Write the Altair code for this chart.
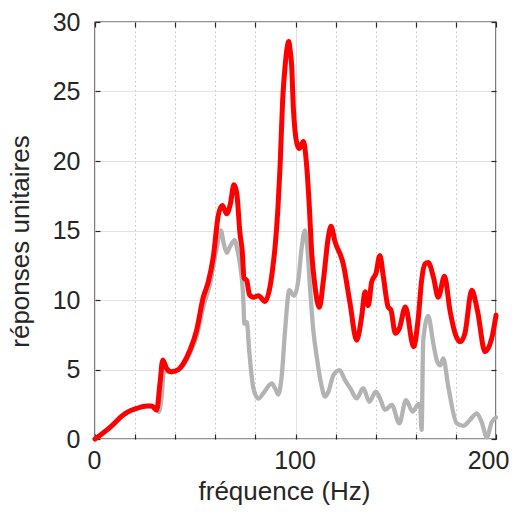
import altair as alt
import pandas as pd

# red series (frequency in Hz, unit response)
freq_red = [0, 7.5, 14.1, 15.8, 20.8, 25.8, 28.3, 30.8, 32.4, 33.8, 35.7, 38.2, 41.6, 44.1,
            47.4, 50.7, 54, 56.5, 59, 61.5, 63.5, 65.7, 67.5, 69.3, 70.7, 72.3, 73.5, 74.3,
            75.7, 77, 79, 81.5, 84.8, 87.3, 88.9, 89.8, 91.2, 92.3, 93.6, 94.8, 95.9, 96.6,
            97.3, 98.1, 98.9, 99.75, 100.8, 101.9, 103.9, 105.6, 106.9, 108, 109.7, 111.9,
            113.9, 116.4, 117.7, 119.7, 123.8, 127.2, 130.5, 133, 134.7, 136.3, 138, 140.1,
            142.1, 143.8, 146.2, 147.6, 149.8, 151.8, 154.8, 158.9, 161.3, 162.9, 164.6,
            166.2, 168.7, 171.2, 174.3, 177.1, 179.6, 182.2, 184.5, 187.9, 190.8, 194.5,
            197.8, 200]
resp_red = [0, 0.84, 1.73, 1.9, 2.2, 2.37, 2.37, 2.09, 4.0, 5.68, 5.08, 4.84, 5.0, 5.44,
            6.4, 7.84, 10.2, 11.3, 13.1, 16.1, 16.8, 16.2, 16.9, 18.3, 17.7, 14.8, 13.4, 11.6,
            11.4, 10.4, 10.2, 10.3, 9.9, 10.96, 12.6, 13.8, 16.5, 19.6, 24.4, 26.8, 28.2, 28.6,
            28.0, 26.8, 23.9, 22.2, 21.2, 20.9, 21.4, 19.6, 16.7, 13.6, 11.0, 9.47,
            11.4, 14.55, 15.3, 14.2, 12.6, 9.76, 7.1, 8.8, 10.6, 9.6, 11.3, 11.9,
            13.2, 11.7, 9.5, 9.28, 7.6, 7.96, 9.5, 6.64, 8.8, 11.4, 12.6,
            12.7, 11.7, 10.2, 11.7, 9.2, 7.6, 7.0, 7.6, 10.7, 9.2, 6.28,
            7.2, 8.9]

# grey series
freq_grey = [0, 7.5, 14.1, 15.8, 20.8, 25.8, 28.3, 30.8, 31.8, 33.2, 34.4, 36, 38.2, 41.6,
             44.1, 47.4, 50.7, 54, 57.4, 60.5, 62.8, 64.3, 65.7, 67.5, 69.8, 70.7, 72.3, 74,
             74.5, 75.7, 77, 79, 81.5, 84, 88.1, 89.8, 91.4, 93.1, 94.8, 96.9, 99.3, 101.4,
             103.1, 104.7, 105.9, 107.2, 108.9, 110.6, 113.1, 114.7, 116.4, 118.9, 121.9,
             124.7, 127.5, 130.5, 133.8, 136.8, 140.1, 142.5, 144.6, 148, 151.8, 155.1, 158.4,
             161.3, 162.1, 162.9, 163.7, 166.2, 168.7, 170.6, 172.2, 173.7, 176.2, 180.4,
             183.7, 187, 190.4, 192.9, 195.4, 197.8, 200]
resp_grey = [0, 0.84, 1.73, 1.9, 2.2, 2.37, 2.35, 2.05, 1.95, 3.0, 4.9, 4.85, 4.8, 4.95,
             5.3, 6.2, 7.4, 9.5, 11.2, 13.6, 15.0, 14.0, 13.4, 13.9, 14.3, 13.8, 12.6, 10.0,
             8.3, 8.4, 6.2, 3.65, 2.9, 3.3, 4.0, 3.65, 3.2, 4.5, 7.8, 10.7, 10.3, 11.4,
             13.8, 15.0, 13.8, 11.0, 7.8, 5.9, 3.76, 3.05, 3.4, 4.6, 4.96,
             4.24, 3.6, 2.93, 3.65, 2.68, 3.4, 2.8, 2.09, 2.45, 1.13, 2.8, 1.97,
             2.5, 2.45, 0.65, 7.1, 8.85, 6.9, 5.6, 5.3, 5.8, 3.76, 1.13,
             0.95, 1.37, 1.85, 1.2, 0.12, 1.2, 1.55]

x_ticks = list(range(0, 201, 20))
y_ticks = list(range(0, 31, 5))

red_df = pd.DataFrame({"f": freq_red, "r": resp_red})
grey_df = pd.DataFrame({"f": freq_grey, "r": resp_grey})

FONT = "Liberation Sans"
TXT = "#262626"

xscale = alt.Scale(domain=[0, 200], nice=False, zero=False)
yscale = alt.Scale(domain=[0, 30], nice=False)

bottom_axis = alt.Axis(
    values=x_ticks,
    labelExpr="datum.value % 100 === 0 ? datum.label : ''",
    labelFlush=False,
    labelOverlap=False,
    labelOffset={"condition": {"test": "datum.value === 200", "value": -8}, "value": -1},
    grid=True,
    gridDash={"condition": {"test": "datum.value % 100 === 0", "value": []}, "value": [1.5, 3]},
    gridColor={"condition": {"test": "datum.value % 100 === 0", "value": "#e2e2e2"}, "value": "#c4c4c4"},
    gridWidth=1,
    domain=False,
    offset=-5,
    tickSize=5,
    tickColor=TXT,
    tickWidth=1.2,
    labelFont=FONT,
    labelFontSize=25,
    labelColor=TXT,
    labelPadding=9,
    titleFont=FONT,
    titleFontSize=26,
    titleFontWeight="normal",
    titleColor=TXT,
    titlePadding=5,
    titleX=189,
)
left_axis = alt.Axis(
    values=y_ticks,
    grid=True,
    gridColor="#e2e2e2",
    gridWidth=1,
    domain=False,
    offset=-5,
    tickSize=5,
    tickColor=TXT,
    tickWidth=1.2,
    labelFont=FONT,
    labelFontSize=25,
    labelColor=TXT,
    labelPadding=15,
    titleFont=FONT,
    titleFontSize=26,
    titleFontWeight="normal",
    titleColor=TXT,
    titlePadding=19,
    titleY=219,
)
top_axis = alt.Axis(orient="top", values=x_ticks, labels=False, grid=False, domain=False,
                    offset=-5, tickSize=5, tickColor=TXT, tickWidth=1.2, title=None)
right_axis = alt.Axis(orient="right", values=y_ticks, labels=False, grid=False, domain=False,
                      offset=-5, tickSize=5, tickColor=TXT, tickWidth=1.2, title=None)

grey = alt.Chart(grey_df).mark_line(
    color="#b3b3b3", strokeWidth=4.3, interpolate="monotone", strokeJoin="round", strokeCap="round"
).encode(
    x=alt.X("f:Q", scale=xscale, axis=bottom_axis, title="fréquence (Hz)"),
    y=alt.Y("r:Q", scale=yscale, axis=left_axis, title="réponses unitaires"),
)

red = alt.Chart(red_df).mark_line(
    color="#ff0000", strokeWidth=5, interpolate="monotone", strokeJoin="round", strokeCap="round"
).encode(
    x=alt.X("f:Q", scale=xscale, axis=top_axis),
    y=alt.Y("r:Q", scale=yscale, axis=right_axis),
)

chart = alt.layer(grey, red).resolve_axis(x="independent", y="independent").properties(
    width=401,
    height=417,
    autosize=alt.AutoSizeParams(type="none"),
    padding={"left": 87, "top": 14, "right": 13, "bottom": 67},
    background="white",
).configure_view(stroke="#262626", strokeWidth=1.4)

chart.save("out.html", embed_options={"renderer": "svg", "actions": False})
